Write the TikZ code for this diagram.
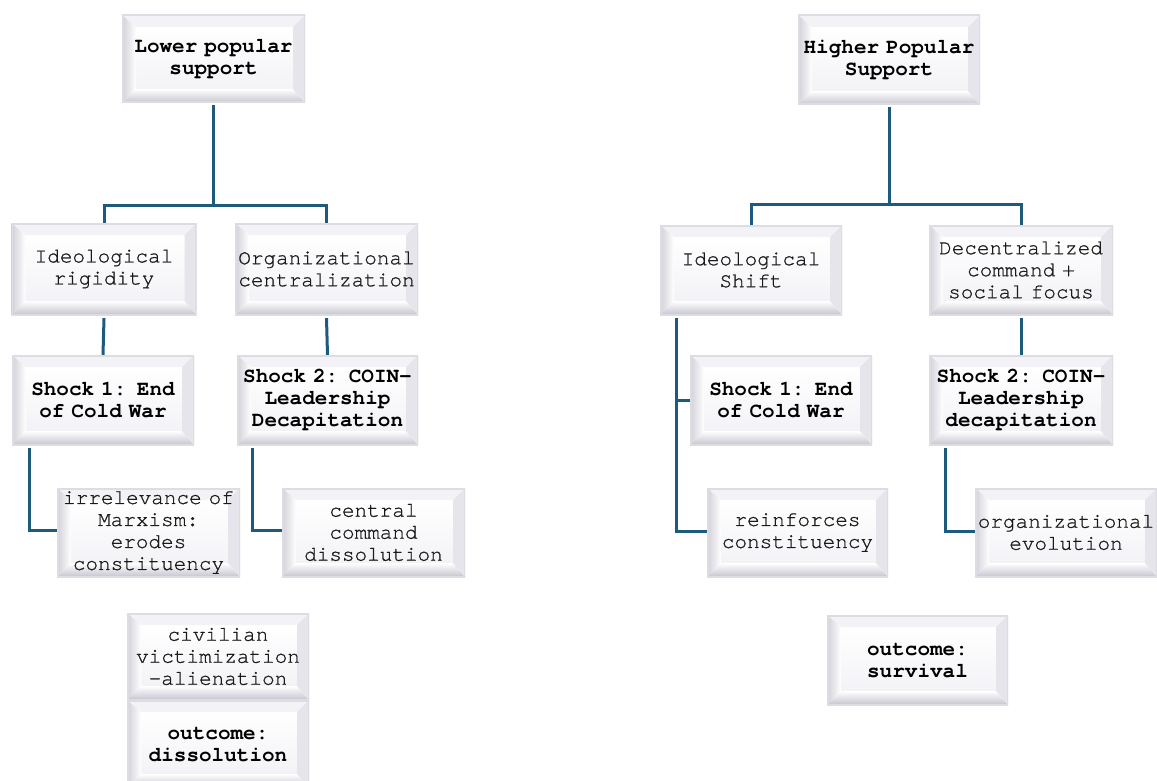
\documentclass[tikz,border=0pt]{standalone}
\usepackage{fontspec}
\setmainfont{TeX Gyre Cursor}[UprightFeatures={FakeBold=0.8}]
\usetikzlibrary{calc}
\definecolor{conncol}{HTML}{1D5A7C}
\definecolor{bevdark}{HTML}{C4C4CE}
\definecolor{bevlight}{HTML}{F3F3F7}
\definecolor{bordcol}{HTML}{DCDCE2}
\definecolor{plaintxt}{HTML}{1A1A1A}
\tikzset{
  conn/.style={draw=conncol, line width=3pt},
  bevbox/.style={rectangle, inner sep=0pt, minimum width=182pt, minimum height=90pt,
    text width=177pt, align=center, font=\fontsize{21}{22}\selectfont,
    path picture={
      \coordinate (NW) at (path picture bounding box.north west);
      \coordinate (NE) at (path picture bounding box.north east);
      \coordinate (SW) at (path picture bounding box.south west);
      \coordinate (SE) at (path picture bounding box.south east);
      \coordinate (nw) at ($(NW)+(14pt,-12pt)$);
      \coordinate (ne) at ($(NE)+(-12pt,-12pt)$);
      \coordinate (sw) at ($(SW)+(14pt,14pt)$);
      \coordinate (se) at ($(SE)+(-12pt,14pt)$);
      \shade[top color=white, bottom color=bevlight] (nw) rectangle (se);
      \fill[bevlight] (NW) -- (NE) -- (ne) -- (nw) -- cycle;
      \shade[left color=bevdark!80, right color=white] (NW) -- (nw) -- (sw) -- (SW) -- cycle;
      \shade[top color=white, bottom color=bevdark] (SW) -- (sw) -- (se) -- (SE) -- cycle;
      \fill[bevlight!70!bevdark] (NE) -- (SE) -- (se) -- (ne) -- cycle;
      \draw[bordcol, line width=3pt] (NW) rectangle (SE);
    }},
  plain/.style={bevbox, text=plaintxt},
  strong/.style={bevbox, text=black, font=\fontsize{21}{22}\selectfont\bfseries},
}
\begin{document}
\begin{tikzpicture}[x=1pt, y=-1pt]
\useasboundingbox (0,0) rectangle (1157,781);
% left tree
\node[strong, minimum width=183pt, minimum height=88pt] (L0) at (213.5,59) {Lower popular\\support};
\node[plain, minimum width=185pt, minimum height=92pt] (L1) at (104,269) {Ideological\\rigidity};
\node[plain, minimum width=183pt, minimum height=92pt] (L2) at (326.5,269) {Organizational\\centralization};
\node[strong] (LS1) at (103,400) {Shock 1: End\\of Cold War};
\node[strong, minimum width=181pt] (LS2) at (327.5,400) {Shock 2: COIN-\\Leadership\\Decapitation};
\node[plain, minimum width=183pt, minimum height=89pt] (LA) at (148.5,532.5) {irrelevance of\\Marxism:\\erodes\\constituency};
\node[plain, minimum width=183pt, minimum height=89pt] (LB) at (373.5,532.5) {central\\command\\dissolution};
\node[plain, minimum height=87pt] (LC) at (218,656.5) {civilian\\victimization\\-alienation};
\node[strong, minimum height=88pt] (LD) at (218,744) {outcome:\\dissolution};
% right tree
\node[strong] (R0) at (889,60) {Higher Popular\\Support};
\node[plain] (R1) at (751,270) {Ideological\\Shift};
\node[plain, minimum width=184pt] (R2) at (1021,270) {Decentralized\\command +\\social focus};
\node[strong] (RS1) at (781,400) {Shock 1: End\\of Cold War};
\node[strong, minimum width=184pt] (RS2) at (1021,400) {Shock 2: COIN-\\Leadership\\decapitation};
\node[plain, minimum width=181pt, minimum height=89pt] (RA) at (797.5,532.5) {reinforces\\constituency};
\node[plain, minimum width=182pt, minimum height=89pt] (RB) at (1066,532.5) {organizational\\evolution};
\node[strong, minimum width=181pt] (RC) at (917.5,660) {outcome:\\survival};
% connectors left
\coordinate (lj) at (213.5,205);
\draw[conn] ([yshift=-2pt]L0.south) -- (lj);
\draw[conn] (lj) -| (L1.north);
\draw[conn] (lj) -| (L2.north);
\draw[conn] ([yshift=-3pt]L1.south) -- (LS1.north);
\draw[conn] ([yshift=-3pt]L2.south) -- (LS2.north);
\draw[conn] ([xshift=18pt,yshift=-3pt]LS1.south west) |- ([yshift=2pt]LA.west);
\draw[conn] ([xshift=16pt,yshift=-3pt]LS2.south west) |- ([yshift=2pt]LB.west);
% connectors right
\coordinate (rj) at (889,204);
\draw[conn] ([yshift=-2pt]R0.south) -- (rj);
\draw[conn] (rj) -| (R1.north);
\draw[conn] (rj) -| (R2.north);
\draw[conn] ([xshift=17pt,yshift=-3pt]R1.south west) |- (RS1.west);
\draw[conn] ([xshift=17pt,yshift=-3pt]R1.south west) |- ([yshift=1pt]RA.west);
\draw[conn] ([yshift=-3pt]R2.south) -- (RS2.north);
\draw[conn] ([xshift=17pt,yshift=-3pt]RS2.south west) |- ([yshift=1pt]RB.west);
\end{tikzpicture}
\end{document}
